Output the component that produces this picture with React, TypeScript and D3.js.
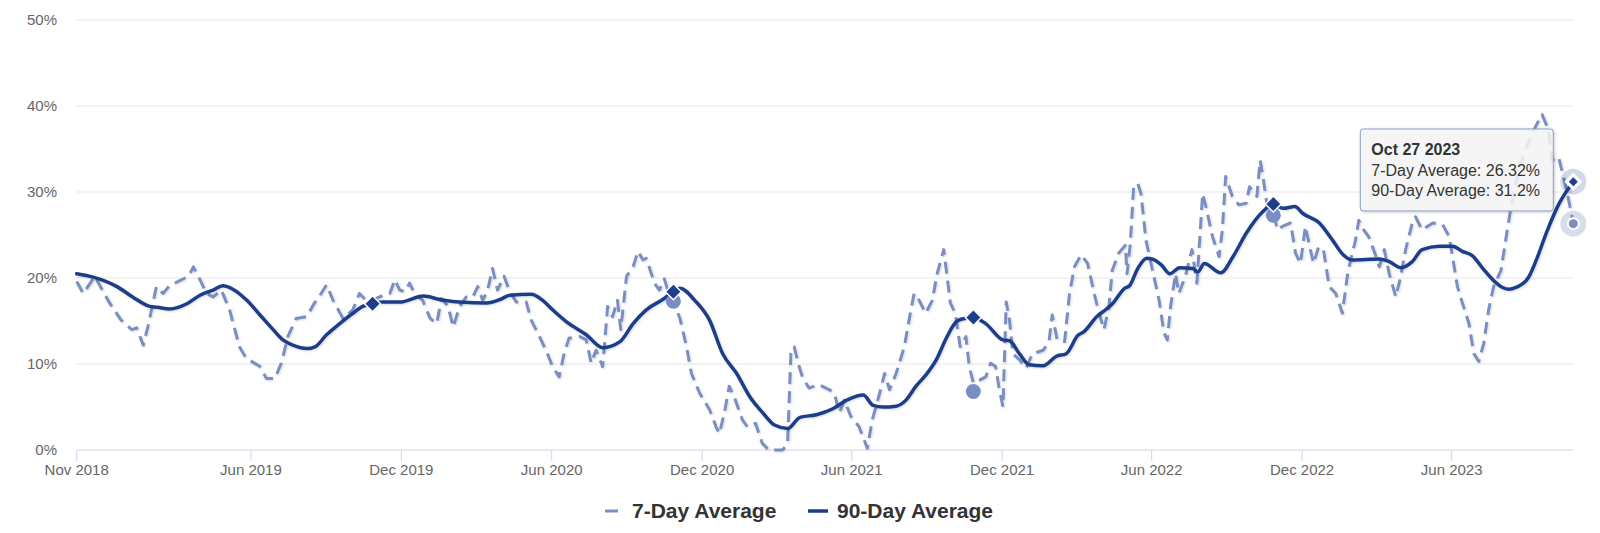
import React from "react";
import * as d3 from "d3";

// values (percent)
const sevenDay: [string, number][] = [
  ["2018-11-01", 19.6], ["2018-11-09", 18.2], ["2018-11-23", 20.2], ["2018-12-11", 17.1], ["2018-12-25", 15.1],
  ["2019-01-07", 14.0], ["2019-01-13", 14.2], ["2019-01-21", 12.2], ["2019-01-27", 14.5], ["2019-02-06", 19.0],
  ["2019-02-14", 18.2], ["2019-02-22", 19.1], ["2019-03-17", 20.2], ["2019-03-23", 21.3], ["2019-03-31", 19.8],
  ["2019-04-08", 18.2], ["2019-04-16", 17.8], ["2019-04-26", 18.6], ["2019-05-06", 16.3], ["2019-05-18", 12.0],
  ["2019-05-26", 10.7], ["2019-06-12", 9.7], ["2019-06-20", 8.3], ["2019-06-30", 8.3], ["2019-07-08", 10.1],
  ["2019-07-16", 13.2], ["2019-07-26", 15.3], ["2019-08-08", 15.5], ["2019-08-16", 16.9], ["2019-08-24", 18.0],
  ["2019-09-01", 19.2], ["2019-09-09", 17.4], ["2019-09-21", 15.3], ["2019-10-03", 16.3], ["2019-10-11", 18.2],
  ["2019-10-19", 17.4], ["2019-10-31", 17.6], ["2019-11-09", 18.0], ["2019-11-17", 18.2], ["2019-11-23", 19.8],
  ["2019-11-29", 18.6], ["2019-12-05", 18.4], ["2019-12-11", 19.4], ["2019-12-17", 18.2], ["2019-12-27", 17.4],
  ["2020-01-05", 15.3], ["2020-01-13", 14.7], ["2020-01-19", 17.6], ["2020-01-27", 16.7], ["2020-02-02", 14.3],
  ["2020-02-10", 16.7], ["2020-02-18", 17.8], ["2020-02-26", 17.8], ["2020-03-03", 19.0], ["2020-03-09", 17.4],
  ["2020-03-15", 18.6], ["2020-03-21", 21.1], ["2020-03-27", 18.6], ["2020-04-04", 20.2], ["2020-04-11", 18.4],
  ["2020-04-19", 17.2], ["2020-05-01", 17.2], ["2020-05-07", 15.1], ["2020-05-17", 13.2], ["2020-05-25", 11.6],
  ["2020-06-02", 9.7], ["2020-06-10", 8.5], ["2020-06-16", 11.2], ["2020-06-22", 13.0], ["2020-07-05", 13.2],
  ["2020-07-13", 12.8], ["2020-07-19", 10.1], ["2020-07-25", 11.6], ["2020-08-02", 9.7], ["2020-08-08", 16.7],
  ["2020-08-14", 15.5], ["2020-08-20", 17.4], ["2020-08-24", 14.0], ["2020-08-31", 20.2], ["2020-09-08", 21.3],
  ["2020-09-14", 23.1], ["2020-09-20", 22.1], ["2020-09-24", 22.3], ["2020-10-04", 19.4], ["2020-10-10", 18.6],
  ["2020-10-16", 19.9], ["2020-10-22", 18.0], ["2020-10-27", 17.3], ["2020-11-04", 15.3], ["2020-11-12", 12.0],
  ["2020-11-18", 8.9], ["2020-11-28", 6.6], ["2020-12-10", 4.7], ["2020-12-18", 2.7], ["2020-12-22", 1.9],
  ["2020-12-28", 4.3], ["2021-01-03", 7.4], ["2021-01-09", 6.2], ["2021-01-19", 3.5], ["2021-01-25", 2.7],
  ["2021-02-04", 3.1], ["2021-02-12", 0.8], ["2021-02-20", 0], ["2021-03-09", 0], ["2021-03-15", 0.8],
  ["2021-03-19", 11.2], ["2021-03-23", 12.0], ["2021-03-29", 9.7], ["2021-04-02", 8.5], ["2021-04-10", 7.2],
  ["2021-04-22", 7.6], ["2021-05-05", 7.0], ["2021-05-11", 6.6], ["2021-05-17", 4.3], ["2021-05-23", 5.8],
  ["2021-05-31", 3.9], ["2021-06-10", 2.7], ["2021-06-16", 1.2], ["2021-06-20", 0.2], ["2021-06-26", 3.5],
  ["2021-07-05", 6.6], ["2021-07-11", 8.9], ["2021-07-17", 7.0], ["2021-07-25", 8.9], ["2021-08-04", 12.0],
  ["2021-08-12", 16.3], ["2021-08-16", 18.2], ["2021-08-22", 17.4], ["2021-08-30", 15.9], ["2021-09-07", 17.4],
  ["2021-09-13", 20.5], ["2021-09-21", 23.3], ["2021-09-25", 20.2], ["2021-09-29", 17.1], ["2021-10-05", 15.9],
  ["2021-10-11", 12.0], ["2021-10-18", 13.2], ["2021-10-22", 9.7], ["2021-10-27", 7.8], ["2021-11-03", 8.1],
  ["2021-11-11", 8.5], ["2021-11-17", 10.1], ["2021-11-23", 9.7], ["2021-11-27", 7.4], ["2021-12-02", 5.0],
  ["2021-12-06", 17.2], ["2021-12-10", 15.1], ["2021-12-14", 11.2], ["2021-12-22", 10.5], ["2021-12-30", 9.5],
  ["2022-01-07", 11.2], ["2022-01-20", 11.6], ["2022-01-27", 12.6], ["2022-01-31", 15.7], ["2022-02-06", 12.8],
  ["2022-02-15", 12.6], ["2022-02-21", 18.2], ["2022-02-27", 21.3], ["2022-03-07", 22.7], ["2022-03-15", 21.7],
  ["2022-03-23", 18.2], ["2022-03-29", 15.9], ["2022-04-04", 14.0], ["2022-04-10", 16.7], ["2022-04-14", 20.9],
  ["2022-04-22", 22.9], ["2022-04-30", 23.8], ["2022-05-02", 20.5], ["2022-05-06", 24.0], ["2022-05-10", 30.6],
  ["2022-05-15", 31.0], ["2022-05-19", 29.8], ["2022-05-25", 24.4], ["2022-06-02", 20.9], ["2022-06-10", 17.4],
  ["2022-06-16", 13.6], ["2022-06-20", 12.8], ["2022-06-24", 16.7], ["2022-06-30", 20.5], ["2022-07-04", 18.2],
  ["2022-07-12", 20.2], ["2022-07-20", 23.3], ["2022-07-26", 19.4], ["2022-08-02", 29.8], ["2022-08-06", 28.3],
  ["2022-08-14", 24.8], ["2022-08-22", 22.5], ["2022-08-26", 25.6], ["2022-08-30", 31.8], ["2022-09-07", 29.5],
  ["2022-09-15", 28.5], ["2022-09-24", 28.7], ["2022-09-28", 30.6], ["2022-10-07", 29.5], ["2022-10-11", 33.7],
  ["2022-10-15", 31.4], ["2022-10-19", 28.7], ["2022-10-27", 27.6], ["2022-11-01", 25.6], ["2022-11-07", 26.0],
  ["2022-11-17", 26.4], ["2022-11-23", 22.9], ["2022-11-29", 21.7], ["2022-12-05", 26.0], ["2022-12-11", 23.3],
  ["2022-12-15", 21.7], ["2022-12-21", 23.6], ["2022-12-27", 23.3], ["2023-01-03", 19.0], ["2023-01-11", 18.2],
  ["2023-01-19", 15.9], ["2023-01-25", 20.2], ["2023-01-29", 22.1], ["2023-02-04", 24.4], ["2023-02-08", 26.7],
  ["2023-02-14", 25.6], ["2023-02-20", 24.8], ["2023-03-01", 22.5], ["2023-03-05", 21.3], ["2023-03-11", 23.3],
  ["2023-03-17", 20.5], ["2023-03-25", 17.8], ["2023-03-31", 20.2], ["2023-04-06", 23.3], ["2023-04-14", 26.4],
  ["2023-04-18", 27.1], ["2023-04-26", 25.6], ["2023-05-09", 26.4], ["2023-05-21", 26.2], ["2023-05-29", 24.8],
  ["2023-06-04", 21.3], ["2023-06-08", 19.0], ["2023-06-14", 17.1], ["2023-06-22", 14.7], ["2023-06-28", 11.2],
  ["2023-07-04", 10.3], ["2023-07-10", 12.4], ["2023-07-16", 16.3], ["2023-07-22", 19.0], ["2023-07-31", 20.9],
  ["2023-08-07", 25.2], ["2023-08-13", 28.7], ["2023-08-21", 32.2], ["2023-08-29", 34.9], ["2023-09-11", 37.6],
  ["2023-09-19", 39.0], ["2023-09-27", 37.2], ["2023-10-01", 33.7], ["2023-10-09", 34.1], ["2023-10-19", 30.2],
  ["2023-10-27", 26.32],
];

const ninetyDay: [string, number][] = [
  ["2018-11-01", 20.5], ["2018-11-21", 20.1], ["2018-12-20", 19.0], ["2019-01-08", 17.8], ["2019-01-29", 16.7],
  ["2019-02-07", 16.6], ["2019-02-22", 16.4], ["2019-03-15", 17.0], ["2019-03-31", 18.0], ["2019-04-16", 18.6],
  ["2019-04-28", 19.1], ["2019-05-10", 18.7], ["2019-05-27", 17.4], ["2019-06-12", 15.7], ["2019-06-28", 14.0],
  ["2019-07-10", 12.8], ["2019-07-22", 12.2], ["2019-08-08", 11.8], ["2019-08-18", 12.0], ["2019-09-01", 13.4],
  ["2019-09-17", 14.7], ["2019-10-03", 15.9], ["2019-10-15", 16.7], ["2019-10-27", 17.0], ["2019-11-09", 17.2],
  ["2019-11-29", 17.2], ["2019-12-28", 17.9], ["2020-01-17", 17.5], ["2020-02-10", 17.2], ["2020-03-14", 17.1],
  ["2020-03-30", 17.5], ["2020-04-11", 18.0], ["2020-05-07", 18.1], ["2020-05-21", 17.4], ["2020-06-02", 16.3],
  ["2020-06-19", 14.9], ["2020-07-13", 13.4], ["2020-08-02", 11.9], ["2020-08-23", 12.6], ["2020-09-08", 14.7],
  ["2020-09-24", 16.3], ["2020-10-14", 17.5], ["2020-10-27", 18.4], ["2020-11-04", 18.8], ["2020-11-22", 17.4],
  ["2020-12-10", 15.1], ["2020-12-26", 11.2], ["2021-01-12", 8.9], ["2021-01-28", 6.2], ["2021-02-13", 4.3],
  ["2021-02-27", 2.9], ["2021-03-15", 2.5], ["2021-03-30", 3.8], ["2021-04-19", 4.1], ["2021-05-09", 4.8],
  ["2021-05-26", 5.8], ["2021-06-15", 6.4], ["2021-06-27", 5.2], ["2021-07-09", 5.0], ["2021-07-25", 5.1],
  ["2021-08-06", 5.8], ["2021-08-18", 7.4], ["2021-08-30", 8.7], ["2021-09-12", 10.5], ["2021-09-24", 13.0],
  ["2021-10-06", 14.9], ["2021-10-12", 15.2], ["2021-10-27", 15.4], ["2021-11-11", 14.7], ["2021-12-02", 12.8],
  ["2021-12-10", 12.7], ["2021-12-22", 11.2], ["2022-01-03", 9.9], ["2022-01-20", 9.8], ["2022-02-05", 10.9],
  ["2022-02-17", 11.2], ["2022-03-03", 13.3], ["2022-03-11", 13.8], ["2022-03-26", 15.5], ["2022-04-07", 16.4],
  ["2022-04-15", 17.1], ["2022-04-29", 18.8], ["2022-05-05", 19.1], ["2022-05-15", 21.1], ["2022-05-26", 22.3],
  ["2022-06-02", 22.2], ["2022-06-13", 21.5], ["2022-06-23", 20.5], ["2022-07-05", 21.2], ["2022-07-21", 21.1],
  ["2022-07-27", 20.7], ["2022-08-04", 21.7], ["2022-08-24", 20.6], ["2022-09-08", 22.5], ["2022-09-24", 25.2],
  ["2022-10-14", 27.7], ["2022-10-27", 28.6], ["2022-11-08", 28.1], ["2022-11-22", 28.3], ["2022-12-02", 27.5],
  ["2022-12-22", 26.4], ["2023-01-07", 24.4], ["2023-01-20", 22.7], ["2023-01-31", 22.1], ["2023-03-05", 22.2],
  ["2023-03-17", 21.9], ["2023-03-31", 21.2], ["2023-04-14", 21.9], ["2023-04-26", 23.3], ["2023-05-17", 23.7],
  ["2023-06-02", 23.7], ["2023-06-14", 23.1], ["2023-06-26", 22.6], ["2023-07-09", 21.1], ["2023-07-21", 19.8],
  ["2023-08-02", 18.9], ["2023-08-10", 18.7], ["2023-08-18", 18.9], ["2023-09-02", 20.0], ["2023-09-12", 22.1],
  ["2023-09-24", 25.2], ["2023-10-10", 28.7], ["2023-10-27", 31.2],
];

// same-day-of-year highlights
const markerDates = ["2019-10-27", "2020-10-27", "2021-10-27", "2022-10-27"];
const markerNinety = [17.0, 18.4, 15.4, 28.6];
const markerSeven = [null, 17.3, 6.8, 27.3];

const xTickDates = [
  "2018-11-01", "2019-06-01", "2019-12-01", "2020-06-01", "2020-12-01",
  "2021-06-01", "2021-12-01", "2022-06-01", "2022-12-01", "2023-06-01",
];
const yTicks = [0, 10, 20, 30, 40, 50];

const hoverDate = "2023-10-27";
const seriesNames = ["7-Day Average", "90-Day Average"];

const COLOR7 = "#7a8ec4";
const COLOR90 = "#1d3e8a";
const FONT = "'Liberation Sans', Arial, Helvetica, sans-serif";

const parse = d3.timeParse("%Y-%m-%d");

const App = () => {
  const width = 1600;
  const height = 533;
  const left = 76.7;
  const right = 1573.3;
  const top = 20;
  const bottom = 450;

  const x = d3.scaleTime()
    .domain([parse("2018-11-01")!, parse("2023-10-27")!])
    .range([left, right]);
  const y = d3.scaleLinear().domain([0, 50]).range([bottom, top]);

  const line7 = d3.line<[string, number]>()
    .x(d => x(parse(d[0])!))
    .y(d => y(d[1]));
  const line90 = d3.line<[string, number]>()
    .x(d => x(parse(d[0])!))
    .y(d => y(d[1]))
    .curve(d3.curveMonotoneX);

  const fmtTick = d3.timeFormat("%b %Y");
  const fmtTip = d3.timeFormat("%b %d %Y");

  const hx = x(parse(hoverDate)!);
  const last7 = sevenDay[sevenDay.length - 1][1];
  const last90 = ninetyDay[ninetyDay.length - 1][1];
  const hy7 = y(last7);
  const hy90 = y(last90);

  const diamond = (cx: number, cy: number, r: number) =>
    `M${cx},${cy - r}L${cx + r},${cy}L${cx},${cy + r}L${cx - r},${cy}Z`;

  const tipW = 193;
  const tipH = 82;
  const tipX = hx - 20 - tipW;
  const tipY = hy90 - 52.7;

  return (
    <svg
      width={width}
      height={height}
      style={{ position: "absolute", left: 0, top: 0, display: "block", background: "white" }}
      fontFamily={FONT}
    >
      <defs>
        <filter id="shadow" x="-5%" y="-20%" width="110%" height="140%">
          <feDropShadow dx="1" dy="1" stdDeviation="1" floodColor="#000" floodOpacity="0.15" />
        </filter>
        <filter id="tipShadow" x="-10%" y="-10%" width="130%" height="140%">
          <feDropShadow dx="1" dy="1" stdDeviation="1.5" floodColor="#000" floodOpacity="0.2" />
        </filter>
      </defs>

      {/* grid */}
      {yTicks.filter(t => t > 0).map(t => (
        <line key={"g" + t} x1={left} x2={right} y1={y(t)} y2={y(t)} stroke="#e6e6e6" strokeWidth={1} />
      ))}
      {yTicks.map(t => (
        <text key={"yl" + t} x={57} y={y(t) + 5} textAnchor="end" fontSize={15} fill="#666666">
          {t + "%"}
        </text>
      ))}

      {/* x axis */}
      <line x1={left} x2={right} y1={bottom} y2={bottom} stroke="#ccd6eb" strokeWidth={1} />
      {xTickDates.map(d => {
        const tx = x(parse(d)!);
        return (
          <g key={d}>
            <line x1={tx} x2={tx} y1={bottom} y2={bottom + 11} stroke="#ccd6eb" strokeWidth={1} />
            <text x={tx} y={bottom + 25} textAnchor="middle" fontSize={15} fill="#666666">
              {fmtTick(parse(d)!)}
            </text>
          </g>
        );
      })}

      {/* series */}
      <path
        d={line7(sevenDay) || ""}
        fill="none"
        stroke={COLOR7}
        strokeWidth={3}
        strokeDasharray="12,7"
        strokeLinejoin="round"
        filter="url(#shadow)"
      />
      <path
        d={line90(ninetyDay) || ""}
        fill="none"
        stroke={COLOR90}
        strokeWidth={3.5}
        strokeLinejoin="round"
        strokeLinecap="round"
        filter="url(#shadow)"
      />

      {/* yearly markers */}
      {markerDates.map((d, i) => {
        const v = markerSeven[i];
        if (v === null) return null;
        return <circle key={"c" + d} cx={x(parse(d)!)} cy={y(v)} r={7.5} fill={COLOR7} />;
      })}
      {markerDates.map((d, i) => (
        <path
          key={"d" + d}
          d={diamond(x(parse(d)!), y(markerNinety[i]), 8)}
          fill={COLOR90}
          stroke="#ffffff"
          strokeWidth={1.5}
        />
      ))}

      {/* hover state */}
      <circle cx={hx} cy={hy7} r={13} fill={COLOR7} opacity={0.3} />
      <circle cx={hx} cy={hy7} r={6.5} fill="#ffffff" />
      <circle cx={hx} cy={hy7} r={4.5} fill={COLOR7} />
      <circle cx={hx} cy={hy90} r={13} fill={COLOR90} opacity={0.2} />
      <path d={diamond(hx, hy90, 9)} fill="#ffffff" />
      <path d={diamond(hx, hy90, 4.5)} fill={COLOR90} />

      {/* tooltip */}
      <g>
        <rect
          x={tipX}
          y={tipY}
          width={tipW}
          height={tipH}
          rx={3}
          fill="rgba(247,247,247,0.85)"
          stroke="#8a9cc8"
          strokeWidth={1}
          filter="url(#tipShadow)"
        />
        <text x={tipX + 11} y={tipY + 26} fontSize={16} fontWeight="bold" fill="#333333">
          {fmtTip(parse(hoverDate)!)}
        </text>
        <text x={tipX + 11} y={tipY + 47} fontSize={16} fill="#333333">
          {seriesNames[0] + ": " + last7 + "%"}
        </text>
        <text x={tipX + 11} y={tipY + 67} fontSize={16} fill="#333333">
          {seriesNames[1] + ": " + last90 + "%"}
        </text>
      </g>

      {/* legend */}
      <g>
        <line x1={605} x2={618} y1={511} y2={511} stroke={COLOR7} strokeWidth={3} />
        <text x={632} y={518} fontSize={21} fontWeight="bold" fill="#333333">{seriesNames[0]}</text>
        <line x1={808} x2={828} y1={511} y2={511} stroke={COLOR90} strokeWidth={3.5} />
        <text x={837} y={518} fontSize={21} fontWeight="bold" fill="#333333">{seriesNames[1]}</text>
      </g>
    </svg>
  );
};

export default App;
